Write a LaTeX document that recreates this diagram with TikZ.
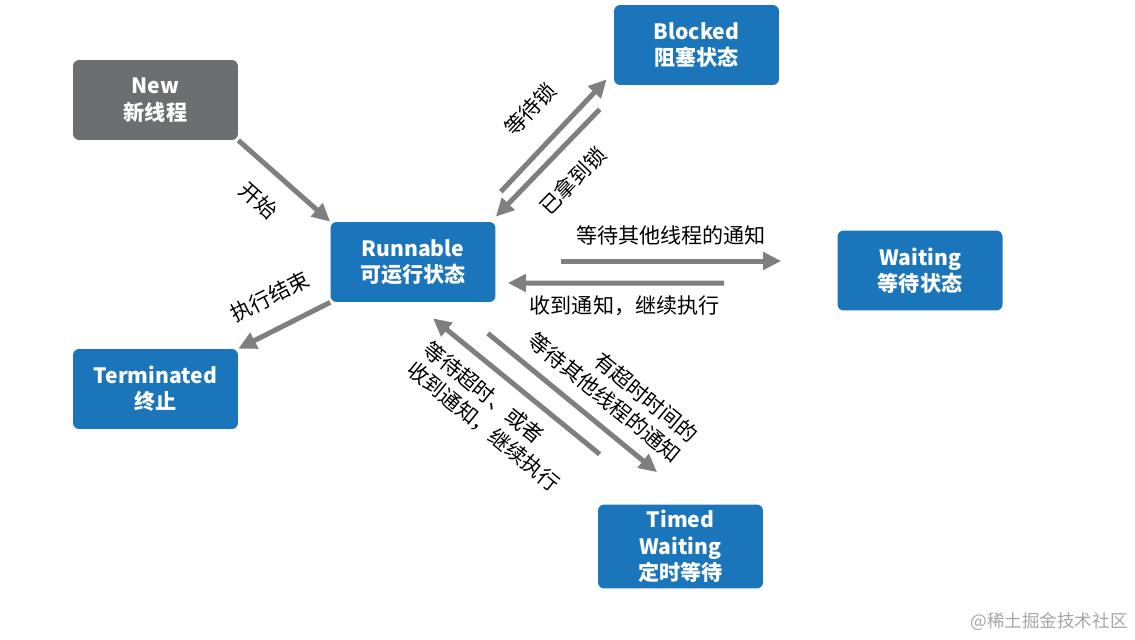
\documentclass[tikz,border=0pt]{standalone}
\usepackage{fontspec}
\setmainfont{Noto Sans CJK SC}
\usetikzlibrary{calc,positioning,arrows.meta}
\definecolor{stateblue}{HTML}{1B75BB}
\definecolor{stategray}{HTML}{6D6E71}
\definecolor{arrowgray}{HTML}{7F7F7F}
\tikzset{
  state/.style={rectangle,rounded corners=3.5pt,fill=stateblue,text=white,
    font=\bfseries\fontsize{12}{15}\selectfont,align=center,
    minimum width=3.3cm,minimum height=1.6cm},
  trans/.style={draw=arrowgray,line width=0.1cm,-{Triangle[length=0.36cm,width=0.34cm]}},
  lbl/.style={font=\fontsize{12}{15}\selectfont,sloped}
}

\begin{document}
\begin{tikzpicture}[x=0.02cm,y=0.02cm]

    \fill [white] (0,0) rectangle (1135,-639);

    \node [state,fill=stategray] (new) at (155.5,-100) {New\\新线程};
    \node [state] (run) at (413,-262) {Runnable\\可运行状态};
    \node [state] (blk) at (696.5,-45) {Blocked\\阻塞状态};
    \node [state] (wait) at (920,-270.5) {Waiting\\等待状态};
    \node [state] (term) at (155.5,-389) {Terminated\\终止};
    \node [state] (tmw) at (680.5,-546.5) {Timed\\Waiting\\定时等待};

    \draw [trans] (new.south east) -- (run.north west) node [lbl,pos=0.45,below=0.28cm]{开始};
    \draw [trans] (run.south west) -- (term.north east) node [lbl,pos=0.5,above=0.28cm]{执行结束};

    \draw [trans] ($(run.north east)+(5,30)$) -- ($(blk.south west)+(-7,6)$) node [lbl,pos=0.52,above=0.34cm]{等待锁};
    \draw [trans] ($(blk.south west)+(-14,-24)$) -- ($(run.north east)+(0,5)$) node [lbl,pos=0.47,below=0.24cm]{已拿到锁};

    \draw [trans] ($(run.east)+(65,1)$) -- ($(wait.west)+(-56,9.5)$) node [lbl,pos=0.5,above=0.14cm]{等待其他线程的通知};
    \draw [trans] ($(wait.west)+(-113,-12.5)$) -- ($(run.east)+(12,-21)$) node [lbl,pos=0.46,below=0.08cm]{收到通知，继续执行};

    \draw [trans] ($(run.south east)+(-8,-31)$) -- ($(tmw.north)+(-23.5,32)$) node [lbl,pos=0.6,above=0.13cm,align=right]{有超时时间的\\等待其他线程的通知};
    \draw [trans] ($(tmw.north west)+(2,50)$) -- ($(run.south)+(20,-16)$) node [lbl,pos=0.5,below=0.14cm,align=left]{等待超时、或者\\收到通知，继续执行};

    \node [font=\fontsize{10}{12}\selectfont,text=black!35] (mark) at (1049,-622) {@稀土掘金技术社区};
\end{tikzpicture}
\end{document}
